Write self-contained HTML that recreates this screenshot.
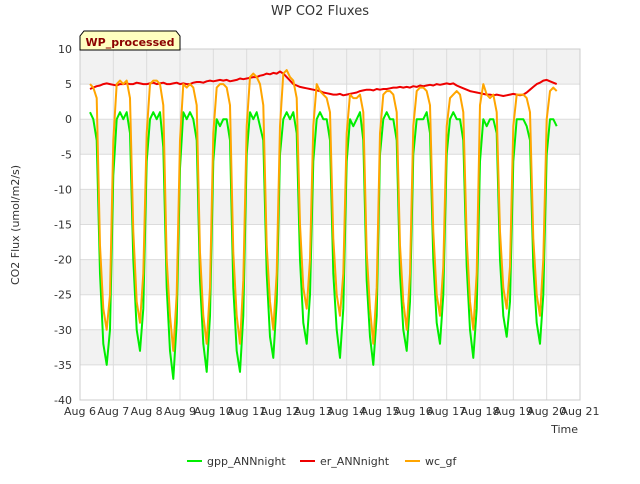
<!DOCTYPE html>
<html><head><meta charset="utf-8"><style>
body{margin:0;background:#fff;font-family:"DejaVu Sans","Liberation Sans",sans-serif;}
</style></head><body>
<svg id="c" width="640" height="480" xmlns="http://www.w3.org/2000/svg" font-family="DejaVu Sans, Liberation Sans, sans-serif">
<rect width="640" height="480" fill="#fff"/>
<text x="320" y="15" text-anchor="middle" font-size="13" fill="#333">WP CO2 Fluxes</text>
<g id="plot"></g>
<text x="19" y="225" transform="rotate(-90 19 225)" text-anchor="middle" font-size="11" fill="#333">CO2 Flux (umol/m2/s)</text>
<text x="578" y="433" text-anchor="end" font-size="11" fill="#333">Time</text>
<g>
<path d="M80,50 L80,36 L84,31 L176,31 L180,36 L180,50 Z" fill="#ffffc0" stroke="#000"/>
<text x="130" y="46" text-anchor="middle" font-size="11" font-weight="bold" fill="#8b0000">WP_processed</text>
</g>
<g font-size="11" fill="#333">
<g><line x1="187" y1="461" x2="202" y2="461" stroke="#00ee00" stroke-width="2"/><text x="207" y="465">gpp_ANNnight</text></g>
<g><line x1="300" y1="461" x2="315" y2="461" stroke="#ee0000" stroke-width="2"/><text x="320" y="465">er_ANNnight</text></g>
<g><line x1="405" y1="461" x2="420" y2="461" stroke="#ffa500" stroke-width="2"/><text x="425" y="465">wc_gf</text></g>
</g>
</svg>
<script>
const xTicks=[6,7,8,9,10,11,12,13,14,15,16,17,18,19,20,21];
const yTicks=[10,5,0,-5,-10,-15,-20,-25,-30,-35,-40];
const tStart=6.3, tStep=0.1;
const gpp=[
1,0,-3,-22,-32,-35,-30,-8,0,1,
0,1,-2,-20,-30,-33,-27,-6,0,1,
0,1,-4,-24,-33,-37,-29,-7,1,0,
1,0,-3,-23,-32,-36,-28,-6,0,-1,
0,0,-3,-24,-33,-36,-28,-5,1,0,
1,-1,-3,-22,-31,-34,-26,-5,0,1,
0,1,-2,-20,-29,-32,-25,-6,0,1,
0,0,-3,-22,-30,-34,-27,-6,0,-1,
0,1,-3,-23,-31,-35,-28,-5,0,1,
0,0,-3,-22,-30,-33,-26,-5,0,0,
0,1,-2,-20,-29,-32,-25,-5,0,1,
0,0,-3,-21,-30,-34,-27,-6,0,-1,
0,0,-2,-20,-28,-31,-26,-6,0,0,
0,-1,-3,-21,-29,-32,-25,-5,0,0,
-1];
const er=[
4.3,4.5,4.7,4.8,5,5.1,5,4.9,4.8,5,
5,5.1,5,5,5.2,5.1,5,5,5.1,5.2,
5,5.1,5.2,5,5,5.1,5.2,5,5.1,5,
5,5.2,5.3,5.3,5.2,5.4,5.5,5.4,5.5,5.6,
5.5,5.6,5.4,5.5,5.6,5.8,5.7,5.8,5.9,6,
6,6.2,6.3,6.5,6.4,6.6,6.5,6.8,6.5,6,
5.5,5,4.8,4.6,4.5,4.4,4.3,4.2,4.1,4,
3.8,3.7,3.6,3.5,3.5,3.6,3.4,3.5,3.6,3.7,
3.8,4,4.1,4.2,4.2,4.1,4.3,4.2,4.3,4.3,
4.4,4.5,4.5,4.6,4.5,4.6,4.5,4.7,4.6,4.8,
4.7,4.8,4.9,4.8,5,4.9,5,5.1,5,5.1,
4.8,4.6,4.4,4.2,4,3.9,3.8,3.7,3.6,3.5,
3.5,3.4,3.5,3.4,3.3,3.4,3.5,3.6,3.5,3.4,
3.5,3.8,4.2,4.6,5,5.2,5.5,5.6,5.4,5.2,
5];
const wc=[
5,4.5,3,-18,-27,-30,-25,-3,5,5.5,
5,5.5,3,-16,-26,-29,-22,-2,5,5.5,
5.5,5,2,-20,-28,-33,-25,-3,5,4.5,
5,4.5,2,-19,-28,-32,-24,-2,4.5,5,
5,4.5,2,-19,-28,-32,-23,-1,6,6.5,
6,5,2,-18,-26,-30,-22,-1,6.5,7,
6,5.5,3,-15,-24,-27,-20,-1,5,4,
3.5,3,1,-17,-25,-28,-22,-2,3.5,3,
3,3.5,1,-19,-27,-32,-24,-2,3.5,4,
4,3.5,1,-18,-26,-30,-22,-1,4,4.5,
4.5,4,2,-16,-25,-28,-21,-1,3,3.5,
4,3.5,1,-17,-26,-30,-22,2,5,3.5,
3,3.5,1,-16,-24,-27,-21,-1,3.5,3.5,
3.5,3,1,-17,-25,-28,-20,0,4,4.5,
4];
const ns="http://www.w3.org/2000/svg";
const X0=80,X1=580,Y0=49,Y1=400;
function xs(t){return X0+(t-6)/(21-6)*(X1-X0);}
function ys(v){return Y1-(v+40)/50*(Y1-Y0);}
const g=document.getElementById('plot');
function mk(tag,attrs){const e=document.createElementNS(ns,tag);for(const k in attrs)e.setAttribute(k,attrs[k]);g.appendChild(e);return e;}
for(let i=0;i<yTicks.length-1;i++){
  if(i%2===0){const r=mk('rect',{x:X0,y:ys(yTicks[i]),width:X1-X0,height:ys(yTicks[i+1])-ys(yTicks[i]),fill:'#f2f2f2'});
  
  }
}
yTicks.forEach(v=>{const l=mk('line',{x1:X0,x2:X1,y1:ys(v),y2:ys(v),stroke:'#dcdcdc'});


const t=mk('text',{x:X0-8,y:ys(v)+4,'text-anchor':'end','font-size':11,fill:'#333'});t.textContent=v;

});
xTicks.forEach(d=>{const l=mk('line',{x1:xs(d),x2:xs(d),y1:Y0,y2:Y1,stroke:'#dcdcdc'});


const t=mk('text',{x:xs(d),y:Y1+15,'text-anchor':'middle','font-size':11,fill:'#333'});t.textContent='Aug '+d;

});
const fr=mk('rect',{x:X0,y:Y0,width:X1-X0,height:Y1-Y0,fill:'none',stroke:'#ccc'});


function line(arr,color,name){
  const p=arr.map((v,i)=>xs(tStart+i*tStep).toFixed(1)+','+ys(v).toFixed(1)).join(' ');
  const e=mk('polyline',{points:p,fill:'none',stroke:color,'stroke-width':2,'stroke-linejoin':'round'});
  
  
}
line(gpp,'#00ee00','gpp-line');
line(er,'#ee0000','er-line');
line(wc,'#ffa500','wc-line');
</script>
</body></html>
